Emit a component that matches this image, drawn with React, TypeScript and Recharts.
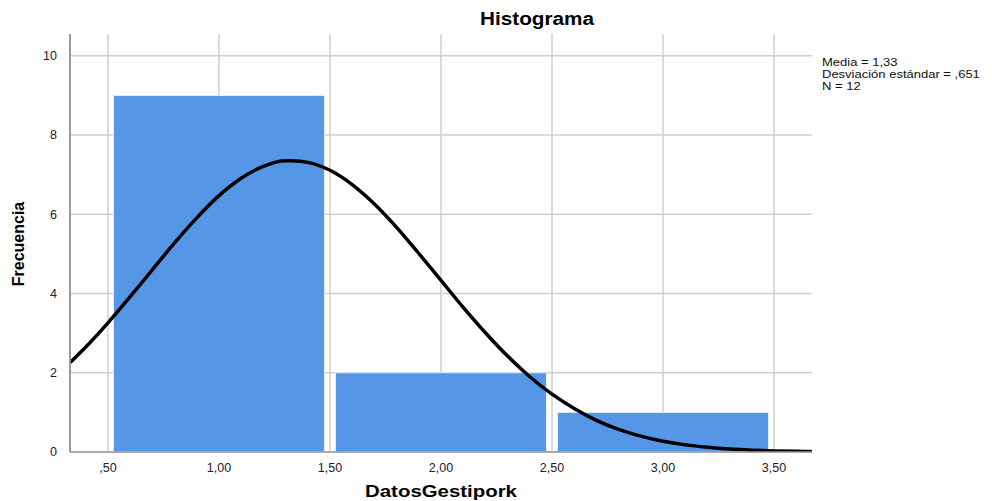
import { ComposedChart, Line, XAxis, YAxis, CartesianGrid, ReferenceArea } from 'recharts';

// histogram bins (lower edge, upper edge, frequency)
const binStart = [0.5, 1.5, 2.5];
const binEnd = [1.5, 2.5, 3.5];
const counts = [9, 2, 1];

// normal curve
const curveX = [0.33, 0.4, 0.5, 0.6, 0.7, 0.8, 0.9, 1.0, 1.1, 1.2, 1.3, 1.33, 1.4, 1.5, 1.6, 1.7, 1.8, 1.9, 2.0,
  2.1, 2.2, 2.3, 2.4, 2.5, 2.6, 2.7, 2.8, 2.9, 3.0, 3.1, 3.2, 3.3, 3.4, 3.5, 3.6, 3.67];
const curveY = [2.26, 2.65, 3.26, 3.92, 4.6, 5.28, 5.91, 6.47, 6.91, 7.21, 7.35, 7.35, 7.31, 7.11, 6.75, 6.26, 5.67,
  5.01, 4.33, 3.65, 3.01, 2.42, 1.9, 1.46, 1.1, 0.8, 0.57, 0.4, 0.27, 0.18, 0.12, 0.076, 0.047, 0.028, 0.017, 0.012];

const xTicks = [0.5, 1, 1.5, 2, 2.5, 3, 3.5];
const yTicks = [0, 2, 4, 6, 8, 10];
const stats = ['Media = 1,33', 'Desviación estándar = ,651', 'N = 12'];

const xDomain = [0.329, 3.671];
const yDomain = [0, 10.55];

const curve = curveX.map((x, i) => ({ x, y: curveY[i] }));

const fmtX = (v: number) => {
  const s = v.toFixed(2).replace('.', ',');
  return s.startsWith('0') ? s.slice(1) : s;
};

// use the axis scale when it is callable, otherwise map through the plot offset
const scaleOf = (axis: any, t: number, lo: number, hi: number, start: number, size: number, flip: boolean) => {
  const s = axis && axis.scale;
  if (typeof s === 'function') return s(t);
  if (s && typeof s.map === 'function') return s.map(t);
  const f = (t - lo) / (hi - lo);
  return flip ? start + size * (1 - f) : start + size * f;
};

const font = '"Liberation Sans", Arial, sans-serif';
const gap = 0.025;

export default function App() {
  return (
    <div style={{ position: 'absolute', left: 0, top: 0, width: 992, height: 501, background: '#fff', fontFamily: font, overflow: 'hidden' }}>
      <ComposedChart width={992} height={501} data={curve} margin={{ top: 34, right: 180, bottom: 0, left: 0 }}>
        <CartesianGrid
          stroke="#cfcfcf"
          strokeWidth={1.5}
          horizontalCoordinatesGenerator={({ yAxis, offset }: any) =>
            yTicks.map((t) => scaleOf(yAxis, t, yDomain[0], yDomain[1], offset.top, offset.height, true))
          }
          verticalCoordinatesGenerator={({ xAxis, offset }: any) =>
            xTicks.map((t) => scaleOf(xAxis, t, xDomain[0], xDomain[1], offset.left, offset.width, false))
          }
        />
        <XAxis
          dataKey="x"
          type="number"
          domain={xDomain}
          ticks={xTicks}
          tickFormatter={fmtX}
          height={49}
          tickLine={false}
          axisLine={{ stroke: '#999', strokeWidth: 1.5 }}
          tick={{ fill: '#222', fontSize: 12.5, fontFamily: font }}
          tickMargin={5}
          allowDataOverflow
        />
        <YAxis
          type="number"
          domain={yDomain}
          ticks={yTicks}
          width={70}
          tickLine={false}
          axisLine={{ stroke: '#999', strokeWidth: 2 }}
          tick={{ fill: '#222', fontSize: 12.5, fontFamily: font }}
          tickMargin={7}
          allowDataOverflow
        />
        {counts.map((c, i) => (
          <ReferenceArea
            key={i}
            x1={binStart[i] + gap}
            x2={binEnd[i] - gap}
            y1={0}
            y2={c}
            fill="#5596e6"
            fillOpacity={1}
            stroke="#e6eefa"
            strokeWidth={1}
          />
        ))}
        <Line
          type="monotone"
          dataKey="y"
          stroke="#000"
          strokeWidth={3.5}
          dot={false}
          activeDot={false}
          isAnimationActive={false}
        />
      </ComposedChart>
      <div
        style={{
          position: 'absolute', left: 437, width: 200, top: 9, textAlign: 'center', fontWeight: 'bold', fontSize: 18,
          transform: 'scaleX(1.15)',
        }}
      >
        Histograma
      </div>
      <div
        style={{
          position: 'absolute', left: 341, width: 200, top: 482, textAlign: 'center', fontWeight: 'bold', fontSize: 17,
          transform: 'scaleX(1.2)',
        }}
      >
        DatosGestipork
      </div>
      <div
        style={{
          position: 'absolute', left: 19, top: 244, width: 120, marginLeft: -60, textAlign: 'center',
          fontWeight: 'bold', fontSize: 16, transform: 'rotate(-90deg)', lineHeight: '18px', marginTop: -9,
        }}
      >
        Frecuencia
      </div>
      <div
        style={{
          position: 'absolute', left: 822, top: 56, fontSize: 11.5, lineHeight: '12px', color: '#111',
          transform: 'scaleX(1.13)', transformOrigin: 'left top',
        }}
      >
        {stats.map((s) => (
          <div key={s} style={{ height: 12, whiteSpace: 'nowrap' }}>{s}</div>
        ))}
      </div>
    </div>
  );
}
